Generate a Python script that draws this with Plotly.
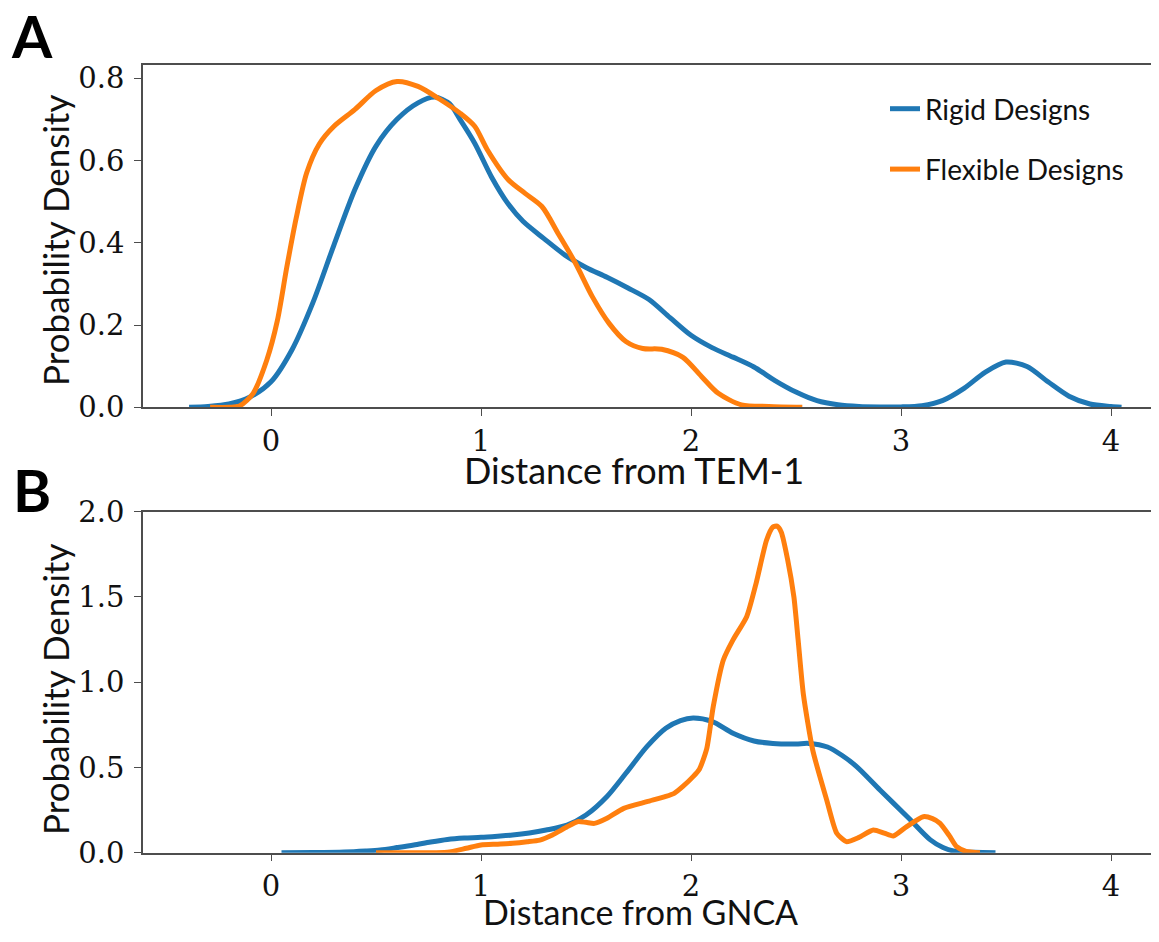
import plotly.graph_objects as go

# ---------------- data ----------------
# Panel A: distance from TEM-1
a_rigid_x = [-0.39, -0.3, -0.2, -0.1, 0.0, 0.1, 0.2, 0.3, 0.4, 0.5, 0.6, 0.7, 0.78,
             0.85, 0.9, 0.97, 1.05, 1.13, 1.2, 1.3, 1.4, 1.5, 1.6, 1.7, 1.8, 1.9, 2.0, 2.1, 2.2, 2.3,
             2.4, 2.5, 2.6, 2.7, 2.8, 2.9, 3.0, 3.1, 3.2, 3.3, 3.4, 3.5, 3.6, 3.7, 3.8, 3.9, 4.0, 4.05]
a_rigid_y = [0.0, 0.002, 0.008, 0.025, 0.062, 0.14, 0.255, 0.395, 0.53, 0.635, 0.70, 0.74, 0.754,
             0.738, 0.70, 0.642, 0.56, 0.494, 0.452, 0.41, 0.37, 0.34, 0.316, 0.29, 0.262,
             0.218, 0.175, 0.145, 0.122, 0.098, 0.065, 0.037, 0.016, 0.006, 0.002, 0.001, 0.001, 0.004,
             0.017, 0.046, 0.085, 0.11, 0.099, 0.062, 0.027, 0.008, 0.002, 0.0]

a_flex_x = [-0.29, -0.2, -0.15, -0.085, -0.02, 0.03, 0.075, 0.12, 0.17, 0.23, 0.3, 0.4, 0.5, 0.6, 0.7,
            0.8, 0.9, 0.97, 1.03, 1.13, 1.21, 1.29, 1.37, 1.45, 1.53, 1.61, 1.69, 1.77, 1.86, 1.96,
            2.05, 2.13, 2.24, 2.37, 2.53]
a_flex_y = [0.0, 0.0, 0.003, 0.034, 0.115, 0.21, 0.34, 0.46, 0.57, 0.64, 0.683, 0.724, 0.77, 0.792,
            0.78, 0.75, 0.715, 0.683, 0.626, 0.553, 0.52, 0.488, 0.42, 0.35, 0.269, 0.204, 0.16, 0.143,
            0.141, 0.122, 0.075, 0.034, 0.006, 0.002, 0.0]

# Panel B: distance from GNCA
b_rigid_x = [0.05, 0.2, 0.35, 0.45, 0.52, 0.6, 0.68, 0.76, 0.84, 0.92, 1.0, 1.08, 1.15, 1.23, 1.31,
             1.41, 1.5, 1.6, 1.69, 1.79, 1.88, 1.95, 2.01, 2.1, 2.2, 2.3, 2.39, 2.5, 2.56, 2.65, 2.72,
             2.79, 2.9, 3.03, 3.14, 3.2, 3.25, 3.35, 3.45]
b_rigid_y = [0.0, 0.001, 0.004, 0.01, 0.016, 0.03, 0.045, 0.063, 0.078, 0.086, 0.09, 0.097, 0.104,
             0.116, 0.133, 0.162, 0.221, 0.33, 0.466, 0.622, 0.73, 0.775, 0.79, 0.77, 0.70, 0.655,
             0.641, 0.638, 0.641, 0.62, 0.57, 0.504, 0.368, 0.211, 0.075, 0.03, 0.01, 0.002, 0.0]

b_flex_x = [0.5, 0.7, 0.84, 0.93, 1.0, 1.08, 1.15, 1.22, 1.28, 1.34, 1.41, 1.46, 1.5, 1.54, 1.6, 1.68,
            1.79, 1.88, 1.92, 1.96, 2.01, 2.04, 2.075, 2.106, 2.154, 2.2, 2.265, 2.31, 2.36, 2.39,
            2.41, 2.43, 2.46, 2.49, 2.51, 2.535, 2.58, 2.646, 2.694, 2.74, 2.8, 2.868, 2.92, 2.963,
            3.027, 3.106, 3.15, 3.186, 3.23, 3.265, 3.31, 3.376]
b_flex_y = [0.0, 0.0, 0.003, 0.026, 0.045, 0.05, 0.055, 0.064, 0.074, 0.104, 0.152, 0.182, 0.178,
            0.172, 0.202, 0.26, 0.299, 0.33, 0.348, 0.387, 0.446, 0.49, 0.61, 0.857, 1.13, 1.248,
            1.384, 1.58, 1.834, 1.91, 1.915, 1.88, 1.72, 1.5, 1.25, 0.93, 0.6, 0.31, 0.114, 0.065,
            0.09, 0.133, 0.115, 0.098, 0.153, 0.211, 0.2, 0.172, 0.1, 0.035, 0.008, 0.0]

series_names = ["Rigid Designs", "Flexible Designs"]
x_titles = ["Distance from TEM-1", "Distance from GNCA"]
y_title = "Probability Density"
panel_labels = ["A", "B"]
x_ticks = [0, 1, 2, 3, 4]
a_y_ticks = [0.0, 0.2, 0.4, 0.6, 0.8]
b_y_ticks = [0.0, 0.5, 1.0, 1.5, 2.0]

# ---------------- styling ----------------
# The page body has an 8 px margin, so the figure is 16 px smaller than the window
# and every screen position p is placed at p - 8 inside the figure.
OFF = 8
W, H = 1159 - 2 * OFF, 942 - 2 * OFF
BLUE, ORANGE = "#1f77b4", "#ff7f0e"
SPINE = "#4d4d4d"
TICKFONT = dict(family="DejaVu Serif", size=29, color="#111111")
SANS = "Lato"


def fx(p):
    return (p - OFF) / W


def fy(p):
    return 1 - (p - OFF) / H


fig = go.Figure()
line_kw = dict(mode="lines", line_shape="spline")
fig.add_trace(go.Scatter(x=a_rigid_x, y=a_rigid_y, name=series_names[0], legendgroup="r",
                         line=dict(color=BLUE, width=5, smoothing=0.8), xaxis="x", yaxis="y", **line_kw))
fig.add_trace(go.Scatter(x=a_flex_x, y=a_flex_y, name=series_names[1], legendgroup="f",
                         line=dict(color=ORANGE, width=5, smoothing=0.8), xaxis="x", yaxis="y", **line_kw))
fig.add_trace(go.Scatter(x=b_rigid_x, y=b_rigid_y, name=series_names[0], legendgroup="r", showlegend=False,
                         line=dict(color=BLUE, width=5, smoothing=0.8), xaxis="x2", yaxis="y2", **line_kw))
fig.add_trace(go.Scatter(x=b_flex_x, y=b_flex_y, name=series_names[1], legendgroup="f", showlegend=False,
                         line=dict(color=ORANGE, width=5, smoothing=0.6), xaxis="x2", yaxis="y2", **line_kw))

xdom = [fx(143), 1.0]
xrange_ = [-0.6095, 4.1905]
common_x = dict(range=xrange_, tickvals=x_ticks, ticktext=[str(t) for t in x_ticks], showline=True,
                linecolor=SPINE, linewidth=1.5, mirror=True, ticks="outside", ticklen=7, tickwidth=1.3,
                tickcolor=SPINE, tickfont=TICKFONT, showgrid=False, zeroline=False, domain=xdom,
                automargin=False)
common_y = dict(showline=True, linecolor=SPINE, linewidth=1.5, mirror=False, ticks="outside", ticklen=7,
                tickwidth=1.3, tickcolor=SPINE, tickfont=TICKFONT, showgrid=False, zeroline=False,
                automargin=False, ticklabelstandoff=4)

fig.update_layout(
    width=W, height=H, autosize=False,
    margin=dict(l=0, r=0, t=0, b=0, pad=0),
    paper_bgcolor="white", plot_bgcolor="white",
    xaxis=dict(anchor="y", **common_x),
    yaxis=dict(anchor="x", domain=[fy(407.3), fy(65)], range=[0, 0.832], tickvals=a_y_ticks,
               ticktext=[f"{v:.1f}" for v in a_y_ticks], **common_y),
    xaxis2=dict(anchor="y2", **common_x),
    yaxis2=dict(anchor="x2", domain=[fy(852.7), fy(511.7)], range=[0, 2.0], tickvals=b_y_ticks,
                ticktext=[f"{v:.1f}" for v in b_y_ticks], **common_y),
    legend=dict(x=fx(885), y=fy(84), xanchor="left", yanchor="top", bgcolor="rgba(0,0,0,0)",
                font=dict(family=SANS, size=28, color="#111111"), traceorder="grouped",
                tracegroupgap=21, itemwidth=30),
    showlegend=True,
)

ann = []
# axis titles
ann.append(dict(text=x_titles[0], x=fx(634), y=fy(470), xref="paper", yref="paper", showarrow=False,
                font=dict(family=SANS, size=36, color="#111111"), xanchor="center", yanchor="middle"))
ann.append(dict(text=x_titles[1], x=fx(640), y=0, xref="paper", yref="paper", showarrow=False,
                font=dict(family=SANS, size=34, color="#111111"), xanchor="center", yanchor="bottom"))
ann.append(dict(text=y_title, x=fx(55), y=fy(241), xref="paper", yref="paper", showarrow=False, textangle=-90,
                font=dict(family=SANS, size=35, color="#111111"), xanchor="center", yanchor="middle"))
ann.append(dict(text=y_title, x=fx(55), y=fy(690), xref="paper", yref="paper", showarrow=False, textangle=-90,
                font=dict(family=SANS, size=35, color="#111111"), xanchor="center", yanchor="middle"))
# panel labels
ann.append(dict(text="<b>" + panel_labels[0] + "</b>", x=fx(32), y=fy(35), xref="paper", yref="paper",
                showarrow=False, font=dict(family=SANS, size=58, color="black"), xanchor="center",
                yanchor="middle"))
ann.append(dict(text="<b>" + panel_labels[1] + "</b>", x=fx(32), y=fy(490), xref="paper", yref="paper",
                showarrow=False, font=dict(family=SANS, size=58, color="black"), xanchor="center",
                yanchor="middle"))
fig.update_layout(annotations=ann)

fig.write_html("out.html")
